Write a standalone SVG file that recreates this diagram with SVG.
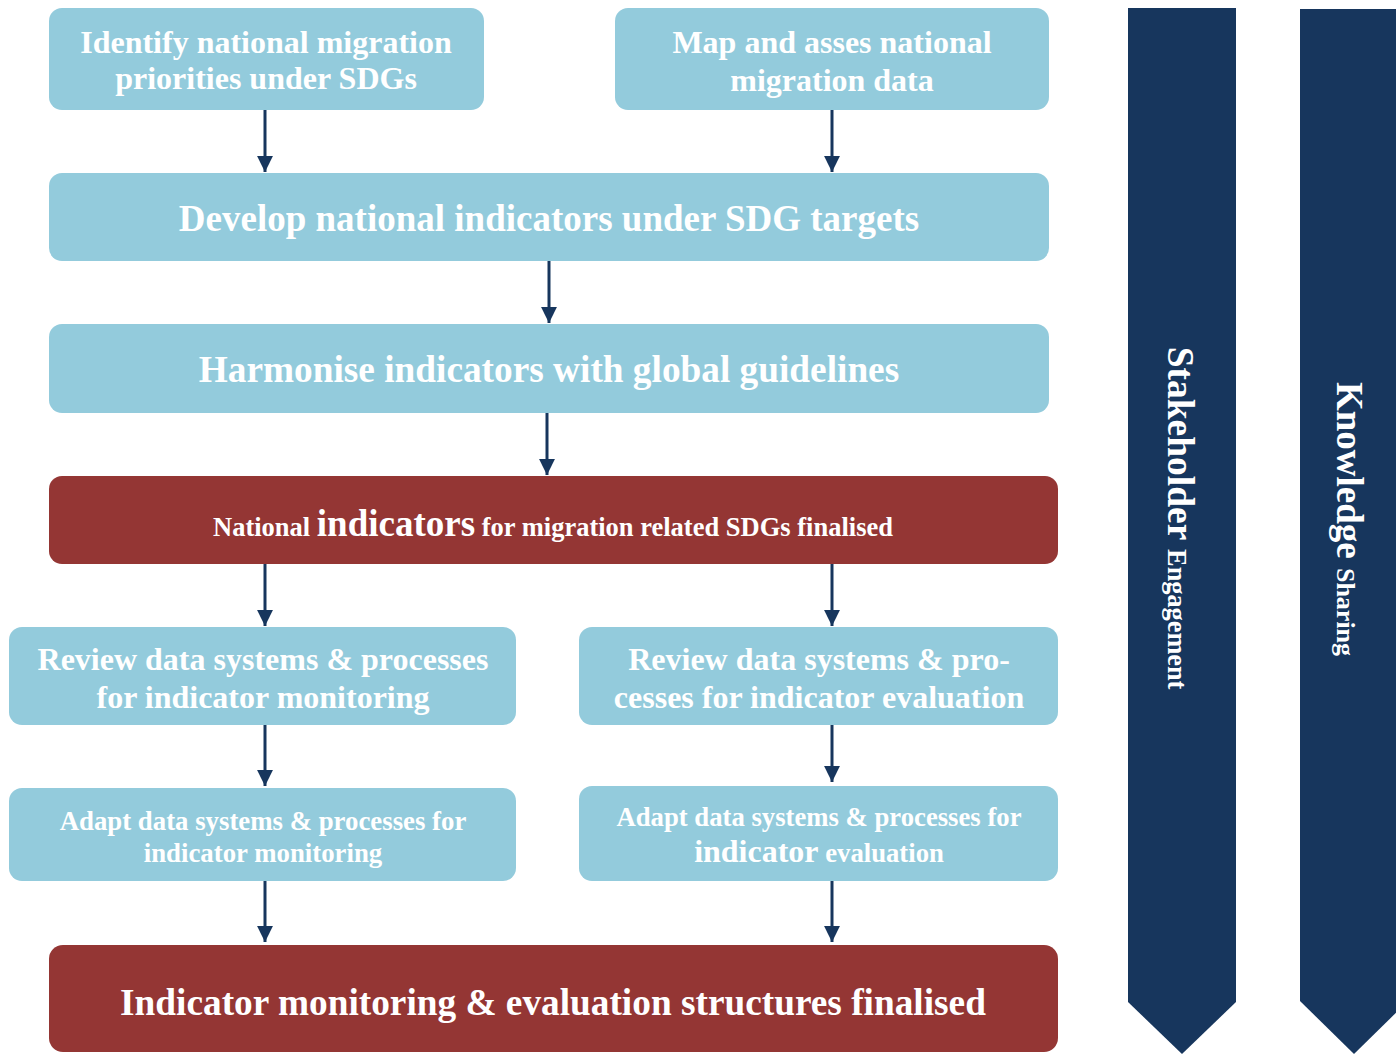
<svg xmlns="http://www.w3.org/2000/svg" width="1396" height="1054" viewBox="0 0 1396 1054">
<style>
.b{fill:#93cbdc}
.r{fill:#943634}
.n{fill:#17365d}
text{font-family:"Liberation Serif","Times New Roman",serif;font-weight:bold;fill:#fff;text-anchor:middle}
.c line{stroke:#17365d;stroke-width:3}
</style>
<defs>
<marker id="ah" markerWidth="5.3" markerHeight="5.3" refX="5.3" refY="2.65" orient="auto" markerUnits="strokeWidth" viewBox="0 0 5.3 5.3"><path d="M0,0 L5.3,2.65 L0,5.3 Z" fill="#17365d"/></marker>
</defs>
<rect width="1396" height="1054" fill="#fff"/>
<g id="stakeholder">
<path class="n" d="M1128,8 H1236 V1002 L1182,1054 L1128,1002 Z"/>
<text transform="translate(1168,518) rotate(90)" font-size="37.5">Stakeholder <tspan font-size="26.3">Engagement</tspan></text>
</g>
<g id="knowledge">
<path class="n" d="M1300,9 H1408 V1001 L1354,1054 L1300,1001 Z"/>
<text transform="translate(1337,519) rotate(90)" font-size="37">Knowledge <tspan font-size="26">Sharing</tspan></text>
</g>
<g id="n1"><rect class="b" x="49" y="8" width="435" height="102" rx="13"/>
<text x="266" y="53" font-size="32">Identify national migration</text><text x="266" y="89" font-size="32">priorities under SDGs</text></g>
<g id="n2"><rect class="b" x="615" y="8" width="434" height="102" rx="13"/>
<text x="832" y="53" font-size="32">Map and asses national</text><text x="832" y="91" font-size="32">migration data</text></g>
<g id="n3"><rect class="b" x="49" y="173" width="1000" height="88" rx="13"/>
<text x="549" y="231" font-size="37">Develop national indicators under SDG targets</text></g>
<g id="n4"><rect class="b" x="49" y="324" width="1000" height="89" rx="13"/>
<text x="549" y="382" font-size="37.3">Harmonise indicators with global guidelines</text></g>
<g id="n5"><rect class="r" x="49" y="476" width="1009" height="88" rx="13"/>
<text x="553" y="536" font-size="26.5">National <tspan font-size="37">indicators</tspan> for migration related SDGs finalised</text></g>
<g id="n6"><rect class="b" x="9" y="627" width="507" height="98" rx="13"/>
<text x="263" y="670" font-size="32">Review data systems &amp; processes</text><text x="263" y="708" font-size="32">for indicator monitoring</text></g>
<g id="n7"><rect class="b" x="579" y="627" width="479" height="98" rx="13"/>
<text x="819" y="670" font-size="32">Review data systems &amp; pro-</text><text x="819" y="708" font-size="32">cesses for indicator evaluation</text></g>
<g id="n8"><rect class="b" x="9" y="788" width="507" height="93" rx="13"/>
<text x="263" y="830" font-size="26.8">Adapt data systems &amp; processes for</text><text x="263" y="862" font-size="26.8">indicator monitoring</text></g>
<g id="n9"><rect class="b" x="579" y="786" width="479" height="95" rx="13"/>
<text x="819" y="826" font-size="26.7">Adapt data systems &amp; processes for</text><text x="819" y="862" font-size="26.7"><tspan font-size="32">indicator</tspan> evaluation</text></g>
<g id="n10"><rect class="r" x="49" y="945" width="1009" height="107" rx="14"/>
<text x="553" y="1015" font-size="37.3">Indicator monitoring &amp; evaluation structures finalised</text></g>
<g id="connectors" class="c">
<line x1="265" y1="110" x2="265" y2="172" marker-end="url(#ah)"/>
<line x1="832" y1="110" x2="832" y2="172" marker-end="url(#ah)"/>
<line x1="549" y1="261" x2="549" y2="323" marker-end="url(#ah)"/>
<line x1="547" y1="413" x2="547" y2="475" marker-end="url(#ah)"/>
<line x1="265" y1="564" x2="265" y2="626" marker-end="url(#ah)"/>
<line x1="832" y1="564" x2="832" y2="626" marker-end="url(#ah)"/>
<line x1="265" y1="725" x2="265" y2="786" marker-end="url(#ah)"/>
<line x1="832" y1="725" x2="832" y2="782" marker-end="url(#ah)"/>
<line x1="265" y1="881" x2="265" y2="942" marker-end="url(#ah)"/>
<line x1="832" y1="881" x2="832" y2="942" marker-end="url(#ah)"/>
</g>
</svg>
